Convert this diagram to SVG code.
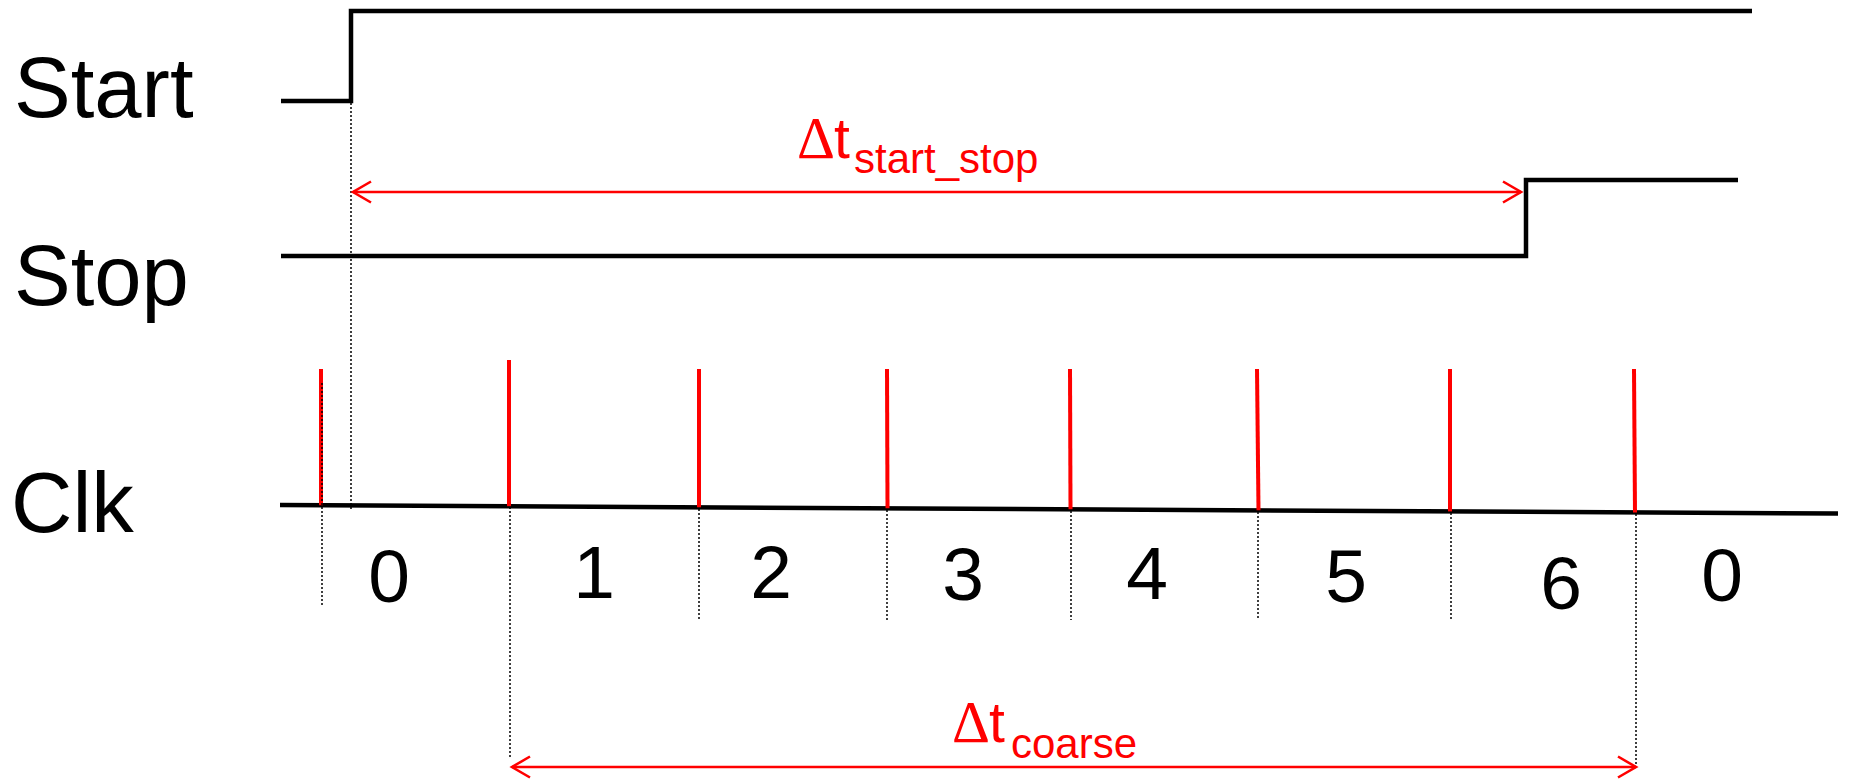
<svg xmlns="http://www.w3.org/2000/svg" width="1849" height="779" viewBox="0 0 1849 779">
  <style>
    .lbl { font-family: "Liberation Sans", Arial, sans-serif; font-size: 85px; fill: #000; }
    .num { font-family: "Liberation Sans", Arial, sans-serif; font-size: 75px; fill: #000; text-anchor: middle; }
    .meas { font-family: "Liberation Sans", Arial, sans-serif; font-size: 57px; fill: #ff0000; }
    .delta { font-family: "Liberation Serif", "Times New Roman", serif; font-size: 59px; }
    .sub { font-size: 42px; }
    .sig { fill: none; stroke: #000; stroke-width: 4.5; stroke-linejoin: miter; }
    .tick { stroke: #ff0000; stroke-width: 4; }
    .guide { stroke: #000; stroke-width: 1.5; stroke-dasharray: 2 2; fill: none; }
    .dim { stroke: #ff0000; stroke-width: 2.6; fill: none; }
  </style>
  <defs>
    <marker id="chev" markerUnits="userSpaceOnUse" markerWidth="26" markerHeight="26" viewBox="-22 -13 26 26" refX="0" refY="0" orient="auto-start-reverse">
      <path d="M-18,-10.5 L0,0 L-18,10.5" fill="none" stroke="#ff0000" stroke-width="2.6"/>
    </marker>
  </defs>
  <rect width="1849" height="779" fill="#fff"/>

  <!-- signal names -->
  <g id="labels">
    <text class="lbl" x="14" y="117">Start</text>
    <text class="lbl" x="14" y="305">Stop</text>
    <text class="lbl" x="11" y="532">Clk</text>
  </g>

  <!-- Start waveform -->
  <g id="start-signal">
    <path class="sig" d="M281,101 H351 V11 H1752"/>
  </g>

  <!-- Stop waveform -->
  <g id="stop-signal">
    <path class="sig" d="M281,256 H1526 V180 H1738"/>
  </g>

  <!-- Clock baseline and edges -->
  <g id="clk-signal">
    <line class="sig" x1="280" y1="505" x2="1838" y2="513.5"/>
    <line class="tick" x1="321" y1="369" x2="321" y2="505.2"/>
    <line class="tick" x1="509" y1="360" x2="509" y2="506.2"/>
    <line class="tick" x1="699" y1="369" x2="699" y2="507.3"/>
    <line class="tick" x1="887" y1="369" x2="887.5" y2="508.3"/>
    <line class="tick" x1="1070" y1="369" x2="1070.5" y2="509.3"/>
    <line class="tick" x1="1257" y1="369" x2="1258.5" y2="510.3"/>
    <line class="tick" x1="1450" y1="369" x2="1450" y2="511.4"/>
    <line class="tick" x1="1634" y1="369" x2="1635" y2="512.4"/>
  </g>

  <!-- dotted guide lines -->
  <g id="guides">
    <line class="guide" x1="351" y1="103" x2="351" y2="510"/>
    <line class="guide" x1="322" y1="383" x2="322" y2="605"/>
    <line class="guide" x1="510" y1="507" x2="510" y2="758"/>
    <line class="guide" x1="699" y1="509" x2="699" y2="620"/>
    <line class="guide" x1="887" y1="510" x2="887" y2="620"/>
    <line class="guide" x1="1071" y1="511" x2="1071" y2="620"/>
    <line class="guide" x1="1258" y1="512" x2="1258" y2="620"/>
    <line class="guide" x1="1451" y1="513" x2="1451" y2="620"/>
    <line class="guide" x1="1636" y1="514" x2="1636" y2="766"/>
  </g>

  <!-- counter values -->
  <g id="counts">
    <text class="num" x="389" y="602">0</text>
    <text class="num" x="594" y="598">1</text>
    <text class="num" x="771" y="598">2</text>
    <text class="num" x="963" y="600">3</text>
    <text class="num" x="1147" y="599">4</text>
    <text class="num" x="1346" y="602">5</text>
    <text class="num" x="1561" y="609">6</text>
    <text class="num" x="1722" y="601">0</text>
  </g>

  <!-- measurement arrows -->
  <g id="connectors">
    <line class="dim" x1="353" y1="192" x2="1521" y2="192" marker-start="url(#chev)" marker-end="url(#chev)"/>
    <line class="dim" x1="512" y1="767" x2="1636" y2="767" marker-start="url(#chev)" marker-end="url(#chev)"/>
  </g>

  <g id="dt-start-stop">
    <text class="meas" x="797" y="158"><tspan class="delta">Δ</tspan><tspan x="834">t</tspan><tspan class="sub" x="854" y="173">start_stop</tspan></text>
  </g>
  <g id="dt-coarse">
    <text class="meas" x="952" y="742"><tspan class="delta">Δ</tspan><tspan x="989">t</tspan><tspan class="sub" x="1011" y="758">coarse</tspan></text>
  </g>
</svg>
